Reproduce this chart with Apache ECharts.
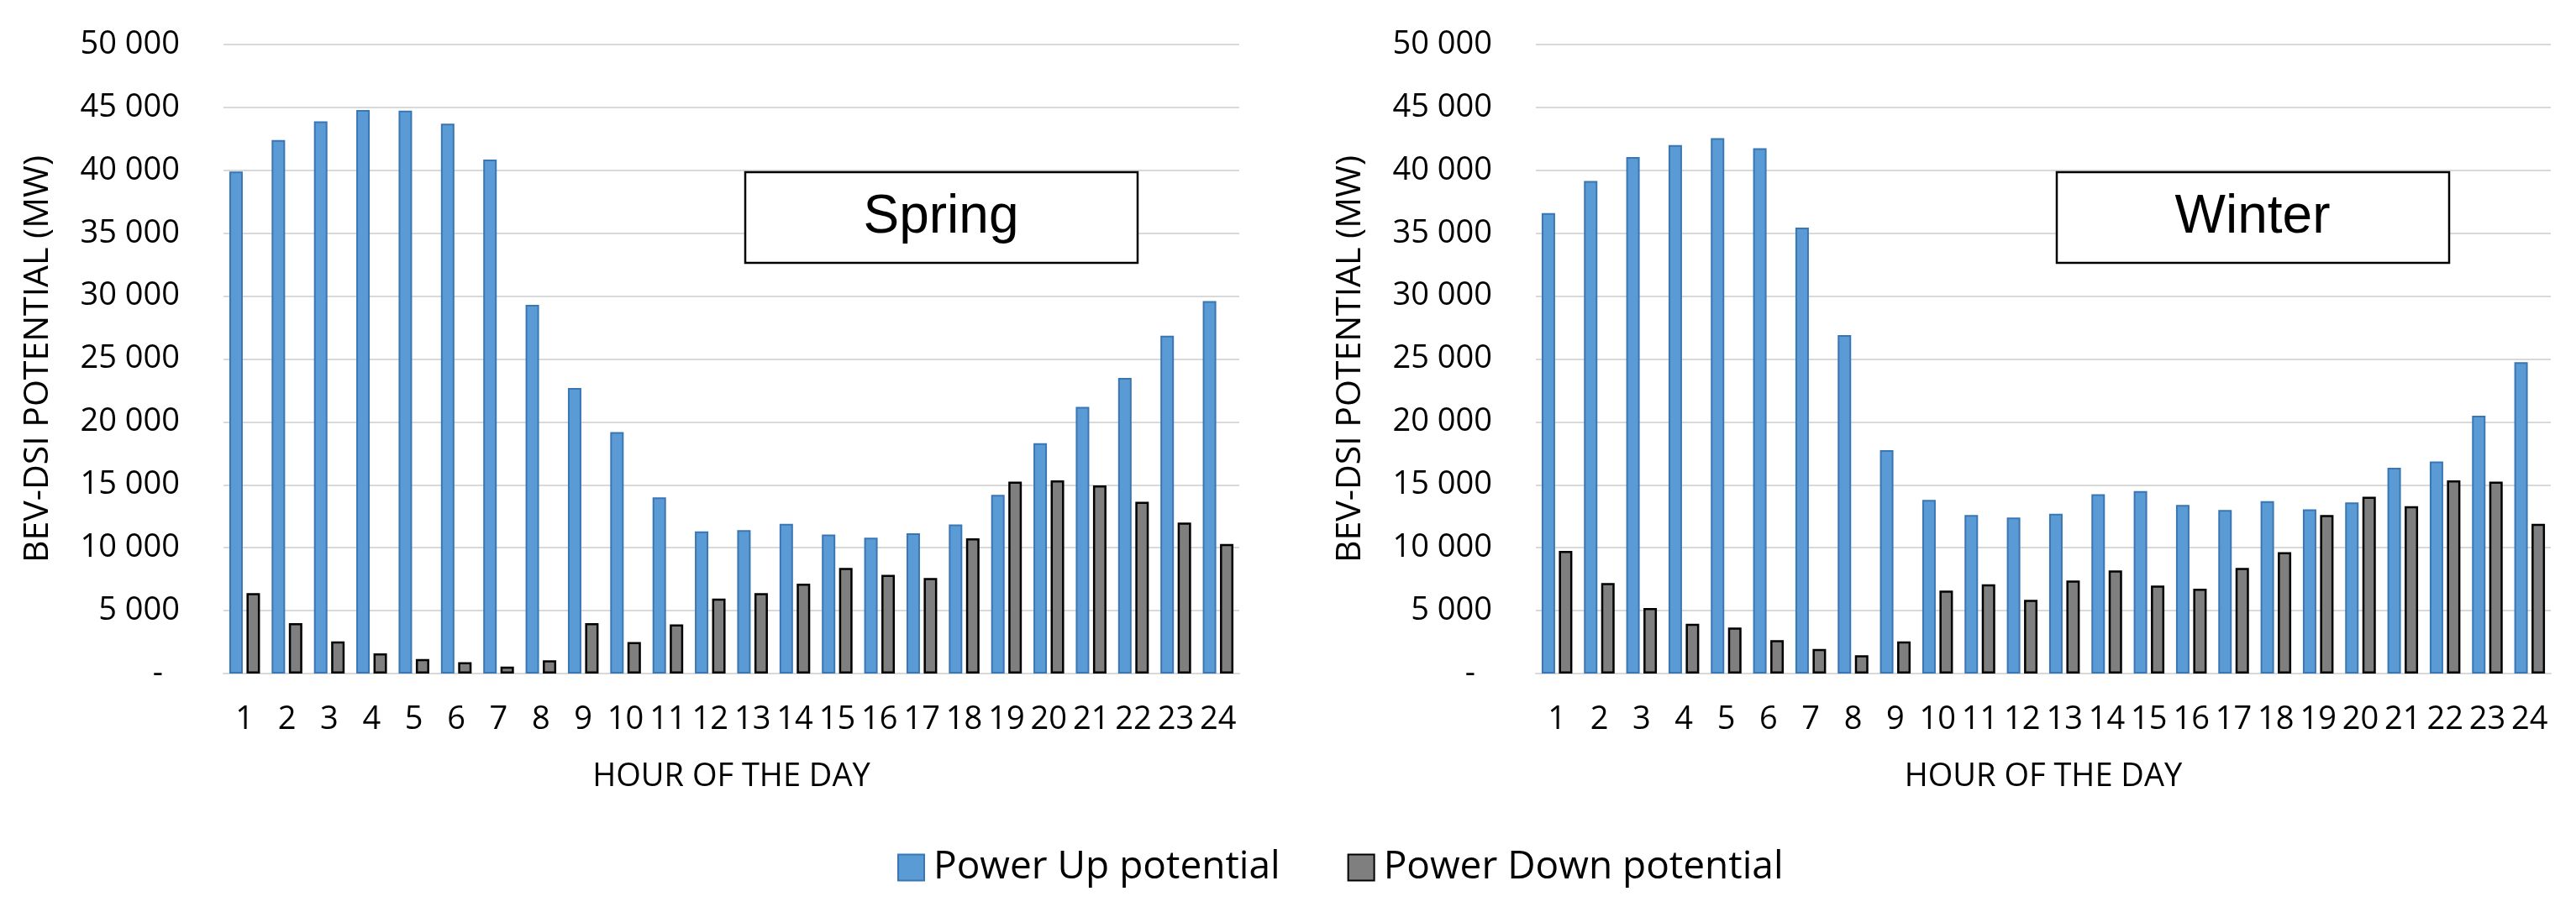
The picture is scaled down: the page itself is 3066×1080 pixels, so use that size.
<!DOCTYPE html>
<html>
<head>
<meta charset="utf-8">
<script src="https://cdn.jsdelivr.net/npm/echarts@6/dist/echarts.min.js"></script>
<style>
html,body{margin:0;padding:0;background:#fff;}
#chart{width:3066px;height:1080px;}
</style>
</head>
<body>
<div id="chart"></div>
<script>
const hours = ['1','2','3','4','5','6','7','8','9','10','11','12','13','14','15','16','17','18','19','20','21','22','23','24'];
const springUp = [39900, 42400, 43900, 44800, 44750, 43700, 40850, 29300, 22700, 19200, 14000, 11300, 11400, 11900, 11050, 10800, 11150, 11850, 14200, 18300, 21200, 23500, 26850, 29600];
const springDown = [6400, 4000, 2550, 1600, 1150, 900, 550, 1050, 4000, 2500, 3900, 5950, 6400, 7150, 8400, 7850, 7600, 10750, 15250, 15350, 14950, 13650, 12000, 10300];
const winterUp = [36600, 39150, 41050, 42000, 42550, 41750, 35450, 26900, 17750, 13800, 12600, 12400, 12700, 14250, 14500, 13400, 13000, 13700, 13050, 13600, 16350, 16850, 20500, 24750];
const winterDown = [9750, 7200, 5200, 3950, 3650, 2650, 1950, 1450, 2550, 6600, 7100, 5850, 7400, 8200, 7000, 6750, 8400, 9650, 12600, 14050, 13300, 15350, 15250, 11900];
const seriesNames = ['Power Up potential', 'Power Down potential'];
const panelTitles = ['Spring', 'Winter'];
const yTitle = 'BEV-DSI POTENTIAL (MW)';
const xTitle = 'HOUR OF THE DAY';

const FONT = '"Open Sans", sans-serif';
const chart = echarts.init(document.getElementById('chart'));

function fmt(v) {
  if (v === 0) return '{d|-}';
  return String(v).replace(/\B(?=(\d{3})+(?!\d))/g, ' ');
}

function xAxis(idx) {
  return {
    type: 'category', gridIndex: idx, data: hours,
    axisLine: {lineStyle: {color: '#d9d9d9', width: 2}},
    axisTick: {show: false},
    axisLabel: {color: '#000', fontFamily: FONT, fontSize: 38, margin: 36, interval: 0},
    name: xTitle, nameLocation: 'middle', nameGap: 104,
    nameTextStyle: {color: '#000', fontFamily: FONT, fontSize: 38}
  };
}
function yAxis(idx) {
  return {
    type: 'value', gridIndex: idx, min: 0, max: 50000, interval: 5000,
    axisLine: {show: false}, axisTick: {show: false},
    splitLine: {lineStyle: {color: '#d9d9d9', width: 2}},
    axisLabel: {color: '#000', fontFamily: FONT, fontSize: 38, margin: 52, formatter: fmt,
      rich: {d: {fontFamily: FONT, fontSize: 38, color: '#000', padding: [0, 20, 0, 0]}}},
    name: yTitle, nameLocation: 'middle', nameGap: 200, nameRotate: 90,
    nameTextStyle: {color: '#000', fontFamily: FONT, fontSize: 41}
  };
}
const upStyle = {color: '#5b9bd5', borderColor: '#3a76b4', borderWidth: 2};
const downStyle = {color: '#7f7f7f', borderColor: '#000', borderWidth: 2.5};

function box(cx, label) {
  return [
    {type: 'rect', shape: {x: cx - 233, y: 205, width: 467, height: 108},
     style: {fill: '#fff', stroke: '#000', lineWidth: 2.5}, z: 100},
    {type: 'text', x: cx, y: 259, z: 101,
     style: {text: label, fill: '#000', font: '64px "Liberation Sans", Arial, sans-serif', align: 'center', verticalAlign: 'middle'}}
  ];
}

chart.setOption({
  animation: false,
  backgroundColor: '#fff',
  textStyle: {fontFamily: FONT},
  grid: [
    {left: 266, top: 53, width: 1209, height: 749},
    {left: 1828, top: 53, width: 1208, height: 749}
  ],
  xAxis: [xAxis(0), xAxis(1)],
  yAxis: [yAxis(0), yAxis(1)],
  legend: {
    data: seriesNames, left: 1063, top: 1005, icon: 'rect',
    itemWidth: 31, itemHeight: 31, itemGap: 80,
    textStyle: {color: '#000', fontFamily: FONT, fontSize: 46, padding: [0, 0, 0, 6]}
  },
  series: [
    {name: seriesNames[0], type: 'bar', xAxisIndex: 0, yAxisIndex: 0, data: springUp, barWidth: 16, barGap: '28%', itemStyle: upStyle},
    {name: seriesNames[1], type: 'bar', xAxisIndex: 0, yAxisIndex: 0, data: springDown, barWidth: 16, barGap: '28%', itemStyle: downStyle},
    {name: seriesNames[0], type: 'bar', xAxisIndex: 1, yAxisIndex: 1, data: winterUp, barWidth: 16, barGap: '28%', itemStyle: upStyle},
    {name: seriesNames[1], type: 'bar', xAxisIndex: 1, yAxisIndex: 1, data: winterDown, barWidth: 16, barGap: '28%', itemStyle: downStyle}
  ],
  graphic: box(1120, panelTitles[0]).concat(box(2681, panelTitles[1]))
});
</script>
</body>
</html>
